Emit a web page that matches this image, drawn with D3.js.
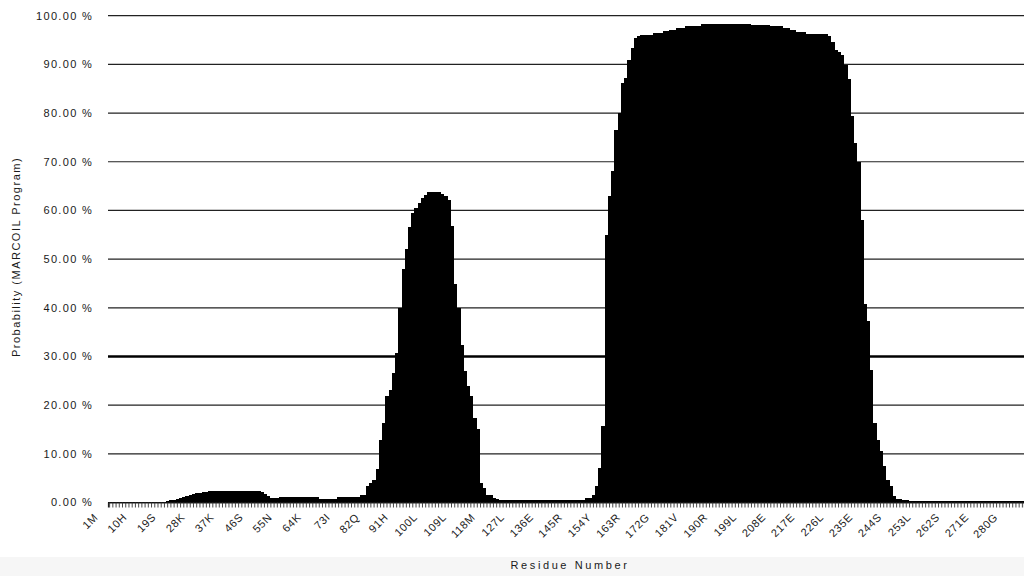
<!DOCTYPE html>
<html><head><meta charset="utf-8">
<script src="https://cdn.jsdelivr.net/npm/d3@7"></script>
<style>
body{margin:0;background:#fff;}
svg{display:block;}
text{font-family:"Liberation Sans", Arial, sans-serif; fill:#1a1a1a;}
</style>
</head><body>
<svg id="chart" width="1024" height="576"></svg>
<script>
// ---------------- data ----------------
const residueCount = 284;
const tickResidues = [1,10,19,28,37,46,55,64,73,82,91,100,109,118,127,136,145,154,163,172,181,190,199,208,217,226,235,244,253,262,271,280];
const tickLabels = ["1M","10H","19S","28K","37K","46S","55N","64K","73I","82Q","91H","100L","109L","118M","127L","136E","145R","154Y","163R","172G","181V","190R","199L","208E","217E","226L","235E","244S","253L","262S","271E","280G"];
const yTicks = [0,10,20,30,40,50,60,70,80,90,100];
const threshold = 30;
// probability (%) per residue 1..284
const probability = [
  0.15,0.15,0.15,0.15,0.15,0.15,0.15,0.15,0.15,0.15,0.15,0.15,0.15,0.15,0.15,0.15,0.15,0.15,
  0.4,0.5,0.6,0.8,0.9,1.1,1.3,1.6,1.8,1.9,2.0,2.1,2.2,2.3,
  2.4,2.4,2.4,2.4,2.4,2.4,2.4,2.4,2.4,2.4,2.4,2.4,2.4,2.4,
  2.3,2.1,1.7,1.3,1.0,0.9,0.9,
  1.2,1.2,1.2,1.2,1.2,1.2,1.2,1.2,1.2,1.2,1.2,1.2,
  0.8,0.8,0.8,0.8,0.8,0.8,
  1.1,1.1,1.1,1.1,1.1,1.1,
  1.2,1.5,
  1.6,3.3,4.0,4.7,6.8,12.9,16.4,21.8,23.2,26.7,30.8,40.0,48.0,52.0,56.5,59.5,60.5,61.6,62.5,63.2,
  63.7,63.8,63.8,63.7,63.4,63.0,62.2,56.7,44.8,40.0,32.4,27.0,24.0,21.8,17.4,15.0,4.0,3.0,1.6,1.6,
  1.0,0.8,
  0.6,0.6,0.6,0.6,0.6,0.6,0.6,0.6,0.6,0.6,0.6,0.6,0.6,0.6,0.6,0.6,0.6,0.6,0.6,0.6,0.6,0.6,0.6,0.6,0.6,0.6,0.6,
  1.0,1.0,1.6,3.3,7.1,15.7,55.0,63.0,68.0,76.6,80.0,86.2,87.2,91.0,93.4,95.4,95.8,
  96.1,96.1,96.1,96.1,
  96.4,96.4,96.4,
  96.8,96.8,
  97.1,97.1,
  97.5,97.5,97.5,
  97.9,97.9,97.9,97.9,97.9,
  98.2,98.2,98.2,98.2,98.2,98.2,98.2,98.2,98.2,98.2,98.2,98.2,98.2,98.2,98.2,
  98.0,98.0,98.0,98.0,98.0,98.0,
  97.8,97.8,97.8,97.8,
  97.5,97.5,
  97.1,97.1,
  96.6,96.6,96.6,
  96.3,96.3,96.3,96.3,96.3,96.3,96.3,
  95.8,94.7,93.0,92.5,92.0,89.9,87.0,79.3,73.9,70.0,58.0,40.7,37.2,27.3,16.4,12.9,10.5,7.5,4.7,3.3,1.3,0.8,0.8,
  0.5,0.5,
  0.3,0.3,0.3,0.3,0.3,0.3,0.3,0.3,0.3,0.3,0.3,0.3,0.3,0.3,0.3,0.3,0.3,0.3,
  0.3,0.3,0.3,0.3,0.3,0.3,0.3,0.3,0.3,0.3,0.3,0.3,0.3,0.3,0.3,0.3,0.3,0.3
];
const yTitle = "Probability (MARCOIL Program)";
const xTitle = "Residue Number";

// ---------------- drawing ----------------
const svg = d3.select("#chart");
const residues = d3.range(1, residueCount + 1);
const x = d3.scaleBand().domain(residues).range([108, 1024]).padding(0);
const y = d3.scaleLinear().domain([0, 100]).range([502.5, 15.7]);
const data = residues.map((r, i) => ({ r, v: probability[i] || 0 }));

// bottom light band
svg.append("rect").attr("x", 0).attr("y", 557).attr("width", 1024).attr("height", 19).attr("fill", "#f6f6f6");

// grid lines (30 % threshold drawn heavier)
svg.append("g").selectAll("line").data(yTicks.filter(d => d > 0)).join("line")
  .attr("x1", 108).attr("x2", 1024)
  .attr("y1", d => y(d)).attr("y2", d => y(d))
  .attr("stroke", d => d === threshold ? "#000" : "#222")
  .attr("stroke-width", d => d === threshold ? 2.6 : 1.2);

// y labels
svg.append("g").selectAll("text").data(yTicks).join("text")
  .attr("x", 93).attr("y", d => y(d)).attr("dy", "0.36em")
  .attr("text-anchor", "end")
  .style("font-size", "11px").style("letter-spacing", "1.3px")
  .text(d => d.toFixed(2) + " %");

// bars
svg.append("g").attr("shape-rendering", "crispEdges")
  .selectAll("rect").data(data).join("rect")
  .attr("x", d => x(d.r))
  .attr("width", x.bandwidth() + 1)
  .attr("y", d => y(d.v))
  .attr("height", d => y(0) - y(d.v))
  .attr("fill", "#000");

// x axis (baseline + ticks at each residue)
const xAxis = d3.axisBottom(x).tickValues(residues).tickSize(5).tickFormat("");
const gx = svg.append("g").attr("transform", `translate(0,${y(0)})`).call(xAxis);
gx.select(".domain").attr("stroke", "#222").attr("stroke-width", 1.2);
gx.selectAll(".tick line").attr("stroke", "#333").attr("stroke-width", 0.9);

// x tick labels, rotated -45 degrees
svg.append("g").selectAll("text").data(tickResidues).join("text")
  .attr("transform", d => `translate(${x(d) + x.bandwidth() / 2 - 11},518) rotate(-45)`)
  .attr("text-anchor", "end")
  .style("font-size", "11px").style("letter-spacing", "0.6px")
  .text((d, i) => tickLabels[i]);

// axis titles
svg.append("text")
  .attr("transform", "translate(20,257) rotate(-90)")
  .attr("text-anchor", "middle")
  .style("font-size", "11px").style("letter-spacing", "1.5px")
  .text(yTitle);
svg.append("text")
  .attr("x", 570).attr("y", 569)
  .attr("text-anchor", "middle")
  .style("font-size", "11px").style("letter-spacing", "2.6px")
  .text(xTitle);
</script>
</body></html>
